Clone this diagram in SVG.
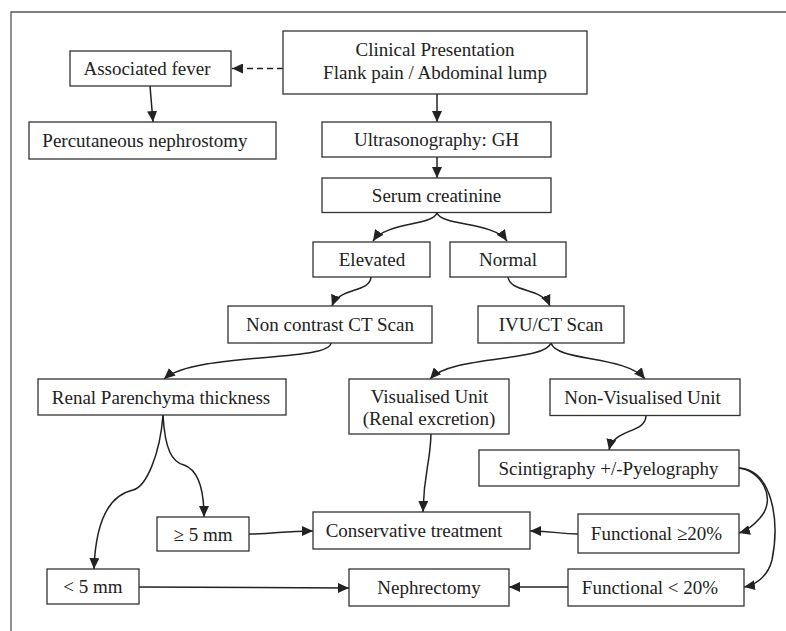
<svg xmlns="http://www.w3.org/2000/svg" width="786" height="631" viewBox="0 0 786 631">
<defs>
<style>
.box{fill:#fff;stroke:#333;stroke-width:1.3}
.t{font-family:"Liberation Serif","Times New Roman",serif;font-size:19px;fill:#222;text-anchor:middle}
.c{fill:none;stroke:#222;stroke-width:1.5}
.d{stroke-dasharray:6,4}
</style>
<marker id="ah" markerUnits="userSpaceOnUse" markerWidth="12" markerHeight="10" refX="11" refY="5" orient="auto">
<path d="M0,0 L11,5 L0,10 z" fill="#222"/>
</marker>
</defs>
<rect width="786" height="631" fill="#fff"/>
<path d="M11,631 V12 H786" fill="none" stroke="#555" stroke-width="1.3"/>

<g id="connectors">
<path class="c d" d="M283,68.5 L232,68.5" marker-end="url(#ah)"/>
<path class="c" d="M150,86 L153,122" marker-end="url(#ah)"/>
<path class="c" d="M437,94 L437,122" marker-end="url(#ah)"/>
<path class="c" d="M437,157 L437,178" marker-end="url(#ah)"/>
<path class="c" d="M437,213 C432,226 386,222 373,241" marker-end="url(#ah)"/>
<path class="c" d="M437,213 C442,226 494,222 507,241" marker-end="url(#ah)"/>
<path class="c" d="M371,277 C370,293 339,287 332,306" marker-end="url(#ah)"/>
<path class="c" d="M508,277 C510,293 542,287 550,306" marker-end="url(#ah)"/>
<path class="c" d="M331,343 C330,362 195,352 164,379" marker-end="url(#ah)"/>
<path class="c" d="M551,343 C545,362 452,355 430,379" marker-end="url(#ah)"/>
<path class="c" d="M551,343 C557,362 625,355 645,379" marker-end="url(#ah)"/>
<path class="c" d="M646,416 C645,434 614,428 609,450" marker-end="url(#ah)"/>
<path class="c" d="M431,434 C430,466 424,470 423,512" marker-end="url(#ah)"/>
<path class="c" d="M163,415 C165,450 172,462 184,465 C198,470 204,490 204,517" marker-end="url(#ah)"/>
<path class="c" d="M163,415 C160,455 146,487 133,490 C101,497 95,540 94,569" marker-end="url(#ah)"/>
<path class="c" d="M249,534 C275,534 282,531 313,531" marker-end="url(#ah)"/>
<path class="c" d="M139,587 L349,588" marker-end="url(#ah)"/>
<path class="c" d="M578,534 C558,534 555,531 530,531" marker-end="url(#ah)"/>
<path class="c" d="M568,587 L509,587" marker-end="url(#ah)"/>
<path class="c" d="M739,468 C760,470 778,498 760,518 C753,526 746,531 739,533" marker-end="url(#ah)"/>
<path class="c" d="M739,468 C772,470 780,520 772,560 C768,576 756,585 744,587" marker-end="url(#ah)"/>
</g>

<g id="clinical"><rect class="box" x="283" y="31" width="304" height="63"/><text class="t" x="435" y="56">Clinical Presentation</text><text class="t" x="435" y="79">Flank pain / Abdominal lump</text></g>
<g id="fever"><rect class="box" x="70" y="51" width="161" height="35"/><text class="t" x="147" y="75">Associated fever</text></g>
<g id="pcn"><rect class="box" x="29" y="122" width="247" height="37"/><text class="t" x="145" y="147">Percutaneous nephrostomy</text></g>
<g id="usg"><rect class="box" x="322" y="122" width="229" height="35"/><text class="t" x="436.5" y="146">Ultrasonography: GH</text></g>
<g id="serum"><rect class="box" x="322" y="178" width="229" height="34.5"/><text class="t" x="436.5" y="201.5">Serum creatinine</text></g>
<g id="elevated"><rect class="box" x="313" y="242" width="117" height="35"/><text class="t" x="372" y="266">Elevated</text></g>
<g id="normal"><rect class="box" x="450" y="242" width="116" height="35"/><text class="t" x="508" y="266">Normal</text></g>
<g id="ncct"><rect class="box" x="228" y="306" width="204" height="37"/><text class="t" x="330" y="331">Non contrast CT Scan</text></g>
<g id="ivu"><rect class="box" x="478" y="306" width="146" height="37"/><text class="t" x="551" y="331">IVU/CT Scan</text></g>
<g id="renal"><rect class="box" x="38" y="379" width="248" height="36"/><text class="t" x="161" y="403.5">Renal Parenchyma thickness</text></g>
<g id="vis"><rect class="box" x="349" y="379" width="160" height="55"/><text class="t" x="429.5" y="403">Visualised Unit</text><text class="t" x="429" y="425">(Renal excretion)</text></g>
<g id="nonvis"><rect class="box" x="550" y="379" width="190" height="36.5"/><text class="t" x="642.5" y="404">Non-Visualised Unit</text></g>
<g id="scint"><rect class="box" x="479" y="450" width="260" height="36"/><text class="t" x="608.5" y="474.5">Scintigraphy +/-Pyelography</text></g>
<g id="ge5"><rect class="box" x="157" y="517" width="92" height="34"/><text class="t" x="203" y="540.5">≥ 5 mm</text></g>
<g id="cons"><rect class="box" x="313" y="512" width="217" height="37"/><text class="t" x="414" y="536.5">Conservative treatment</text></g>
<g id="f20"><rect class="box" x="578" y="514" width="161" height="39"/><text class="t" x="656.5" y="540">Functional ≥20%</text></g>
<g id="lt5"><rect class="box" x="47" y="569" width="92" height="35"/><text class="t" x="93" y="593">&lt; 5 mm</text></g>
<g id="neph"><rect class="box" x="349" y="569" width="160" height="37"/><text class="t" x="429" y="594">Nephrectomy</text></g>
<g id="fl20"><rect class="box" x="568" y="569" width="176" height="37"/><text class="t" x="650" y="594">Functional &lt; 20%</text></g>
</svg>
